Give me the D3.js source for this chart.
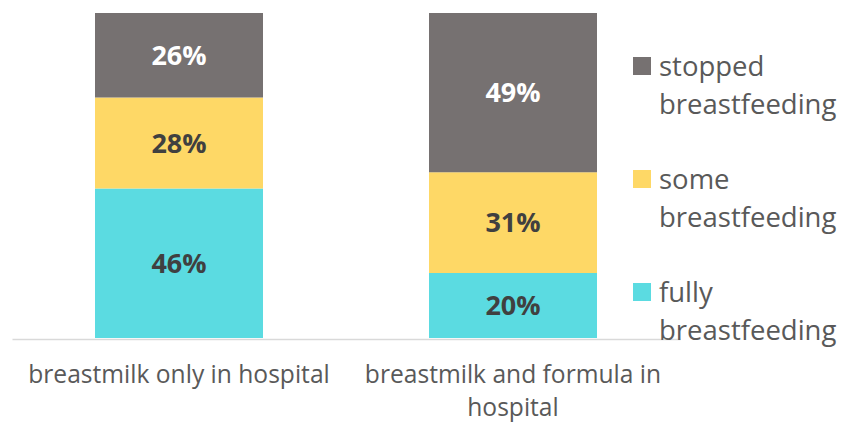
<!DOCTYPE html>
<html>
<head>
<meta charset="utf-8">
<script src="https://cdn.jsdelivr.net/npm/d3@7"></script>
<style>
  body { margin: 0; background: #fff; }
  svg { display: block; font-family: "Open Sans", sans-serif; }
</style>
</head>
<body>
<div id="chart"></div>
<script>
// data
var categories = ['breastmilk only in hospital', 'breastmilk and formula in hospital'];
var seriesNames = ['fully breastfeeding', 'some breastfeeding', 'stopped breastfeeding'];
var fully = [0.46, 0.20];
var some = [0.28, 0.31];
var stopped = [0.26, 0.49];
var colors = ['#5bdbe1', '#fed866', '#767171'];
var labelColors = ['#404040', '#404040', '#ffffff'];

var width = 842, height = 422;

var svg = d3.select('#chart')
.append('svg')
.attr('width', width)
.attr('height', height);

// rows for the stack
var rows = categories.map((c, i) => ({cat: c, s0: fully[i], s1: some[i], s2: stopped[i]}));
var stack = d3.stack().keys(['s0', 's1', 's2']);
var series = stack(rows);

var x = d3.scaleBand()
.domain(categories)
.range([12, 680])
.paddingInner(0.497)
.paddingOuter(0.2485);

var y = d3.scaleLinear()
.domain([0, 1])
.range([338, 13]);

//wrap text into lines no wider than w
function wrap(textSel, w, lineH) {
    textSel.each(function() {
        var text = d3.select(this);
        var words = text.text().split(/\s+/);
        var xPos = text.attr('x') || 0;
        text.text(null);
        var line = [];
        var tspan = text.append('tspan').attr('x', xPos).attr('dy', 0);
        words.forEach(word => {
            line.push(word);
            tspan.text(line.join(' '));
            if (tspan.node().getComputedTextLength() > w && line.length > 1) {
                line.pop();
                tspan.text(line.join(' '));
                line = [word];
                tspan = text.append('tspan').attr('x', xPos).attr('dy', lineH).text(word);
            }
        });
    });
}

// bars
var layer = svg.selectAll('g.layer')
.data(series)
.enter().append('g')
.attr('class', 'layer')
.attr('fill', (d, i) => colors[i]);

layer.selectAll('rect')
.data(d => d)
.enter().append('rect')
.attr('x', d => x(d.data.cat))
.attr('width', x.bandwidth())
.attr('y', d => y(d[1]))
.attr('height', d => y(d[0]) - y(d[1]));

// value labels
layer.selectAll('text')
.data((d, i) => d.map(v => ({v: v, i: i})))
.enter().append('text')
.attr('x', d => x(d.v.data.cat) + x.bandwidth() / 2)
.attr('y', d => (y(d.v[0]) + y(d.v[1])) / 2)
.attr('dy', '0.36em')
.attr('text-anchor', 'middle')
.attr('font-size', 27)
.attr('font-weight', 'bold')
.attr('fill', d => labelColors[d.i])
.text(d => Math.round((d.v[1] - d.v[0]) * 100) + '%');

// x axis
var xAxis = d3.axisBottom(x).tickSize(0).tickPadding(0);
var gx = svg.append('g')
.attr('transform', 'translate(0,339)')
.call(xAxis);
gx.select('.domain').attr('stroke', '#d9d9d9').attr('stroke-width', 1.5);
gx.selectAll('.tick text')
.attr('font-family', '"Open Sans", sans-serif')
.attr('font-size', 24.6)
.attr('fill', '#595959')
.attr('y', 44)
.attr('dy', 0)
.call(wrap, x.step() - 10, 33);

// legend, top item is the last series
var legend = svg.append('g')
.selectAll('g')
.data(seriesNames.map((n, i) => ({name: n, i: i})).reverse())
.enter().append('g')
.attr('transform', (d, k) => 'translate(633,' + (57 + k * 113) + ')');

legend.append('rect')
.attr('width', 18)
.attr('height', 18)
.attr('fill', d => colors[d.i]);

legend.append('text')
.attr('x', 26)
.attr('y', 19)
.attr('font-size', 27.5)
.attr('fill', '#595959')
.text(d => d.name)
.call(wrap, 150, 38);
</script>
</body>
</html>
